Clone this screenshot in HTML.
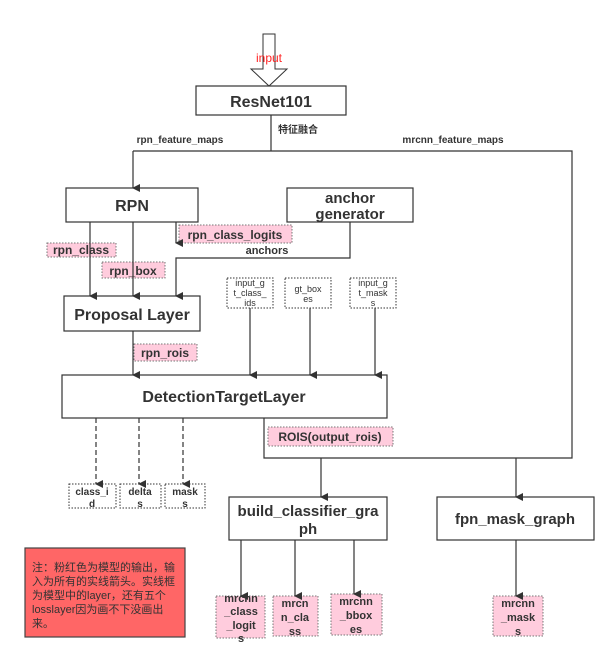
<!DOCTYPE html>
<html><head><meta charset="utf-8"><style>
body{margin:0;background:#fff;}
svg text{font-family:"Liberation Sans","Noto Sans CJK SC",sans-serif;fill:#333;}
</style></head><body>
<svg width="611" height="651" viewBox="0 0 611 651" xmlns="http://www.w3.org/2000/svg">
<defs>
<marker id="a" markerWidth="8" markerHeight="8" refX="4" refY="7" orient="auto" markerUnits="userSpaceOnUse"><path d="M0,0 L8,0 L4,8 Z" fill="#333"/></marker>
</defs>
<g fill="#fff" stroke="#333" stroke-width="1.2">
<!-- input arrow -->
<path d="M263,34 L275,34 L275,69 L287,69 L269,86 L251,69 L263,69 Z" stroke-width="1"/>
<rect x="196" y="86" width="150" height="29"/>
<rect x="66" y="188" width="132" height="34"/>
<rect x="287" y="188" width="126" height="34"/>
<rect x="64" y="296" width="136" height="35"/>
<rect x="62" y="375" width="325" height="43"/>
<rect x="229" y="497" width="158" height="43"/>
<rect x="437" y="497" width="157" height="43"/>
</g>
<rect x="25" y="548" width="160" height="89" fill="#ff6666" stroke="#444" stroke-width="1.2"/>
<g fill="#ffccdd" stroke="#777" stroke-width="1" stroke-dasharray="1.5,1.5">
<rect x="179" y="225" width="113" height="18"/>
<rect x="47" y="243" width="69" height="14"/>
<rect x="102" y="262" width="63" height="16"/>
<rect x="134" y="344" width="63" height="17"/>
<rect x="268" y="427" width="125" height="19"/>
<rect x="216" y="596" width="49" height="42"/>
<rect x="273" y="596" width="45" height="40"/>
<rect x="331" y="594" width="51" height="41"/>
<rect x="493" y="596" width="50" height="40"/>
</g>
<g fill="#fff" stroke="#333" stroke-width="1" stroke-dasharray="1.5,1.5">
<rect x="227" y="278" width="46" height="30"/>
<rect x="285" y="278" width="46" height="30"/>
<rect x="350" y="278" width="46" height="30"/>
<rect x="69" y="484" width="47" height="24"/>
<rect x="120" y="484" width="41" height="24"/>
<rect x="165" y="484" width="40" height="24"/>
</g>
<g fill="none" stroke="#333" stroke-width="1.2">
<path d="M271,115 V151 M133,151 H572 V458 H264 V418"/>
<path d="M133,151 V188" marker-end="url(#a)"/>
<path d="M90,222 V296" marker-end="url(#a)"/>
<path d="M133,222 V296" marker-end="url(#a)"/>
<path d="M176,222 V243" marker-end="url(#a)"/>
<path d="M350,222 V258 H176 V296" marker-end="url(#a)"/>
<path d="M133,331 V375" marker-end="url(#a)"/>
<path d="M250,308 V375" marker-end="url(#a)"/>
<path d="M310,308 V375" marker-end="url(#a)"/>
<path d="M375,308 V375" marker-end="url(#a)"/>
<path d="M96,418 V484" stroke-dasharray="5,3" marker-end="url(#a)"/>
<path d="M139,418 V484" stroke-dasharray="5,3" marker-end="url(#a)"/>
<path d="M183,418 V484" stroke-dasharray="5,3" marker-end="url(#a)"/>
<path d="M321,458 V497" marker-end="url(#a)"/>
<path d="M516,458 V497" marker-end="url(#a)"/>
<path d="M241,540 V596" marker-end="url(#a)"/>
<path d="M295,540 V596" marker-end="url(#a)"/>
<path d="M354,540 V594" marker-end="url(#a)"/>
<path d="M516,540 V596" marker-end="url(#a)"/>
</g>
<g font-weight="bold" text-anchor="middle">
<text x="271" y="107" font-size="16">ResNet101</text>
<text x="132" y="211" font-size="16">RPN</text>
<text x="350" y="203" font-size="15">anchor</text>
<text x="350" y="219" font-size="15">generator</text>
<text x="132" y="320" font-size="16">Proposal Layer</text>
<text x="224" y="402" font-size="16">DetectionTargetLayer</text>
<text x="308" y="516" font-size="15">build_classifier_gra</text>
<text x="308" y="534" font-size="15">ph</text>
<text x="515" y="524" font-size="15">fpn_mask_graph</text>
<text x="235" y="239" font-size="12">rpn_class_logits</text>
<text x="81" y="254" font-size="12">rpn_class</text>
<text x="133" y="275" font-size="12">rpn_box</text>
<text x="165" y="357" font-size="12">rpn_rois</text>
<text x="330" y="441" font-size="12">ROIS(output_rois)</text>
<text x="267" y="254" font-size="11">anchors</text>
<text x="298" y="133" font-size="10">特征融合</text>
<text x="180" y="143" font-size="10">rpn_feature_maps</text>
<text x="453" y="143" font-size="10">mrcnn_feature_maps</text>
<g font-size="9" font-weight="normal">
<text x="250" y="286">input_g</text><text x="250" y="296">t_class_</text><text x="250" y="306">ids</text>
<text x="308" y="292">gt_box</text><text x="308" y="302">es</text>
<text x="373" y="286">input_g</text><text x="373" y="296">t_mask</text><text x="373" y="306">s</text>
</g>
<g font-size="10">
<text x="92" y="495">class_i</text><text x="92" y="507">d</text>
<text x="140" y="495">delta</text><text x="140" y="507">s</text>
<text x="185" y="495">mask</text><text x="185" y="507">s</text>
</g>
<g font-size="11">
<text x="241" y="602">mrcnn</text><text x="241" y="615">_class</text><text x="241" y="629">_logit</text><text x="241" y="642">s</text>
<text x="295" y="607">mrcn</text><text x="295" y="621">n_cla</text><text x="295" y="635">ss</text>
<text x="356" y="605">mrcnn</text><text x="356" y="619">_bbox</text><text x="356" y="633">es</text>
<text x="518" y="607">mrcnn</text><text x="518" y="621">_mask</text><text x="518" y="635">s</text>
</g>
</g>
<text x="269" y="62" font-size="12" text-anchor="middle" style="fill:#ff2222">input</text>
<g font-size="11" style="fill:#333">
<text x="32" y="571">注：粉红色为模型的输出，输</text>
<text x="32" y="585">入为所有的实线箭头。实线框</text>
<text x="32" y="599">为模型中的layer，还有五个</text>
<text x="32" y="613">losslayer因为画不下没画出</text>
<text x="32" y="627">来。</text>
</g>
</svg>
</body></html>
